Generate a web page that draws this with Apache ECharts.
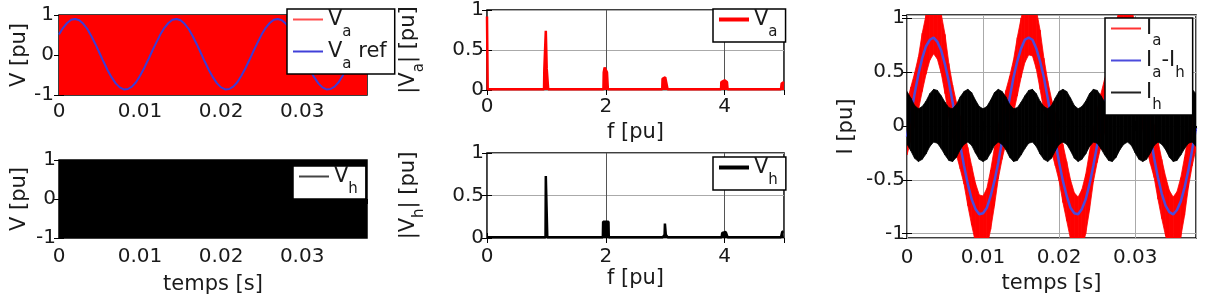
<!DOCTYPE html>
<html><head><meta charset="utf-8">
<script src="https://cdn.jsdelivr.net/npm/echarts@6/dist/echarts.min.js"></script>
<style>html,body{margin:0;padding:0;background:#fff}#c{width:1213px;height:304px}</style>
</head><body><div id="c"></div><script>
// ---------------- data ----------------
// PWM records: the switching is so dense that only the band between the extremes is visible
const pwmTime = [0, 0.038];
const vaPwmTop = [1, 1];
const vaPwmBottom = [-1, -1];
const vhPwmTop = [1, 1];
const vhPwmBottom = [-1, -1];

// slow curves sampled every 0.5 ms from t = 0 to 0.038 s
const sampleStep = 0.0005;
const vaRef = [0.51,0.68,0.80,0.88,0.90,0.87,0.78,0.65,0.47,0.27,0.05,-0.17,-0.38,-0.56,-0.71,-0.81,-0.86,-0.85,-0.79,-0.68,-0.52,-0.33,-0.12,0.10,0.31,
  0.51,0.68,0.80,0.88,0.90,0.87,0.78,0.65,0.47,0.27,0.05,-0.17,-0.38,-0.56,-0.71,-0.81,-0.86,-0.85,-0.79,-0.68,-0.52,-0.33,-0.12,0.10,0.31,
  0.51,0.68,0.80,0.88,0.90,0.87,0.78,0.65,0.47,0.27,0.05,-0.17,-0.38,-0.56,-0.71,-0.81,-0.86,-0.85,-0.79,-0.68,-0.52,-0.33,-0.12,0.10,0.31,
  0.51,0.68];
const iaMinusIh = [-0.10,0.10,0.30,0.48,0.63,0.74,0.80,0.82,0.78,0.70,0.57,0.41,0.22,0.02,-0.18,-0.37,-0.54,-0.68,-0.77,-0.82,-0.81,-0.76,-0.65,-0.51,-0.34,-0.14,0.06,0.26,0.45,0.60,0.72,0.80,0.82,0.80,0.72,0.60,0.45,0.26,0.06,-0.14,-0.34,-0.51,-0.65,-0.76,-0.81,-0.82,-0.77,-0.68,-0.54,-0.37,-0.18,0.02,0.22,0.41,0.57,0.70,0.78,0.82,0.80,0.74,0.63,0.48,0.30,0.10,-0.10,-0.30,-0.48,-0.63,-0.74,-0.80,-0.82,-0.78,-0.70,-0.57,-0.41,-0.22,-0.02];
const ihTop = [0.32,0.26,0.19,0.16,0.18,0.23,0.30,0.34,0.33,0.28,0.22,0.17,0.16,0.20,0.27,0.32,0.34,0.31,0.24,0.18,0.16,0.18,0.24,0.31,0.34,0.32,0.27,0.20,0.16,0.17,0.22,0.28,0.33,0.34,0.30,0.23,0.18,0.16,0.19,0.26,0.32,0.34,0.32,0.26,0.19,0.16,0.18,0.23,0.30,0.34,0.33,0.28,0.22,0.17,0.16,0.20,0.27,0.32,0.34,0.31,0.24,0.18,0.16,0.18,0.24,0.31,0.34,0.32,0.27,0.20,0.16,0.17,0.22,0.28,0.33,0.34,0.30];
const ihBottom = [-0.17,-0.23,-0.30,-0.33,-0.31,-0.26,-0.19,-0.15,-0.16,-0.21,-0.27,-0.32,-0.33,-0.29,-0.22,-0.17,-0.15,-0.18,-0.25,-0.31,-0.33,-0.31,-0.25,-0.18,-0.15,-0.17,-0.22,-0.29,-0.33,-0.32,-0.27,-0.21,-0.16,-0.15,-0.19,-0.26,-0.31,-0.33,-0.30,-0.23,-0.17,-0.15,-0.17,-0.23,-0.30,-0.33,-0.31,-0.26,-0.19,-0.15,-0.16,-0.21,-0.27,-0.32,-0.33,-0.29,-0.22,-0.17,-0.15,-0.18,-0.25,-0.31,-0.33,-0.31,-0.25,-0.18,-0.15,-0.17,-0.22,-0.29,-0.33,-0.32,-0.27,-0.21,-0.16,-0.15,-0.19];
const iaTop = [0.22,0.36,0.49,0.64,0.86,1.03,1.16,1.21,1.17,1.04,0.85,0.58,0.38,0.22,0.09,-0.05,-0.20,-0.37,-0.53,-0.64,-0.65,-0.58,-0.41,-0.20,0.00,0.18,0.33,0.46,0.61,0.82,1.00,1.14,1.21,1.20,1.08,0.89,0.63,0.42,0.25,0.12,-0.02,-0.17,-0.33,-0.50,-0.62,-0.66,-0.59,-0.45,-0.24,-0.03,0.15,0.30,0.44,0.58,0.78,0.96,1.11,1.20,1.20,1.11,0.93,0.66,0.46,0.28,0.14,0.01,-0.14,-0.31,-0.47,-0.60,-0.66,-0.61,-0.48,-0.29,-0.08,0.12,0.28];
const iaBottom = [-0.27,-0.13,0.00,0.15,0.32,0.48,0.61,0.67,0.62,0.49,0.30,0.09,-0.11,-0.27,-0.40,-0.54,-0.74,-0.92,-1.08,-1.19,-1.20,-1.13,-0.96,-0.74,-0.49,-0.31,-0.16,-0.03,0.12,0.28,0.45,0.59,0.66,0.65,0.53,0.34,0.14,-0.07,-0.24,-0.37,-0.51,-0.71,-0.88,-1.05,-1.17,-1.21,-1.14,-1.00,-0.78,-0.52,-0.34,-0.19,-0.05,0.09,0.24,0.41,0.56,0.65,0.65,0.56,0.38,0.17,-0.03,-0.21,-0.35,-0.48,-0.68,-0.86,-1.02,-1.15,-1.21,-1.16,-1.03,-0.83,-0.57,-0.37,-0.21];

// spectra
const vaSpecF = [0,0.006,0.012,0.96,0.965,0.985,0.99,1.0,1.005,1.025,1.03,1.96,1.965,1.98,2.0,2.02,2.035,2.95,2.955,2.97,3.0,3.03,3.04,3.94,3.945,3.96,4.0,4.04,4.05,4.95,4.96,4.98,5.0];
const vaSpecMag = [0.92,0.92,0.01,0.01,0.26,0.27,0.74,0.74,0.27,0.26,0.01,0.01,0.22,0.28,0.28,0.22,0.01,0.01,0.14,0.16,0.16,0.14,0.01,0.01,0.10,0.12,0.12,0.10,0.01,0.01,0.08,0.10,0.10];
const vhSpecF = [0,0.985,0.99,1.01,1.015,1.95,1.955,2.045,2.05,2.96,2.97,2.99,2.995,3.005,3.01,3.03,3.04,3.95,3.96,3.98,4.02,4.04,4.05,4.95,4.97,4.99,5.0];
const vhSpecMag = [0.01,0.01,0.73,0.73,0.01,0.01,0.19,0.19,0.01,0.01,0.03,0.04,0.17,0.17,0.04,0.03,0.01,0.01,0.06,0.07,0.07,0.06,0.01,0.01,0.07,0.08,0.08];

// axis ranges / ticks
const timeRange = [0, 0.038], timeTick = 0.01;
const vRange = [-1, 1], vTick = 1;
const fRange = [0, 5], fTick = 2;
const magRange = [0, 1], magTick = 0.5;
const iRange = [-1.04, 1.03];

// legend / axis texts
const legendText = {
  Va: 'V{s|a}', VaRef: 'V{s|a} ref', Vh: 'V{s|h}', VaSpec: 'V{s|a}', VhSpec: 'V{s|h}',
  Ia: 'I{s|a}', IaDiff: 'I{s|a}-I{s|h}', Ih: 'I{s|h}'
};
const nameV = 'V [pu]', nameT = 'temps [s]', nameF = 'f [pu]', nameI = 'I [pu]';
const nameVa = '|V{s|a}| [pu]', nameVh = '|V{s|h}| [pu]';

// ---------------- build ----------------
const tSample = vaRef.map((_, i) => +(i * sampleStep).toFixed(4));
const pairs = (xs, ys) => xs.map((x, i) => [x, ys[i]]);

const FONT = 'DejaVu Sans';
const TXT = '#1a1a1a';
const subRich = { s: { fontFamily: FONT, fontSize: 15, color: TXT, padding: [26, 0, 0, 0] } };
const nameRich = { s: { fontFamily: FONT, fontSize: 15, color: TXT, padding: [22, 0, 0, 0] } };

function axis(gi, range, extra) {
  const base = {
    gridIndex: gi, type: 'value', min: range[0], max: range[1],
    nameLocation: 'middle', nameMoveOverlap: false,
    nameTextStyle: { fontFamily: FONT, fontSize: 21, color: TXT, rich: nameRich },
    axisLine: { show: false },
    axisTick: { show: true, inside: true, length: 5, lineStyle: { color: '#000', width: 1 } },
    axisLabel: { fontFamily: FONT, fontSize: 20, color: TXT, margin: 8, showMaxLabel: true, showMinLabel: true },
    splitLine: { show: false }
  };
  for (const k in extra) {
    if (base[k] && typeof base[k] === 'object' && !Array.isArray(base[k]) && typeof extra[k] === 'object') base[k] = Object.assign({}, base[k], extra[k]);
    else base[k] = extra[k];
  }
  return base;
}
function mirror(gi, range, pos, extra) {
  return axis(gi, range, Object.assign({ position: pos, axisLabel: { show: false } }, extra || {}));
}
const gridStyle = { show: true, borderColor: '#000', borderWidth: 1.5, backgroundColor: 'transparent' };
const split = (c) => ({ show: true, lineStyle: { color: c, width: 1 } });

// filled band between a lower and an upper envelope, drawn quad by quad through the axis scales
function band(name, xi, yi, xs, lo, hi, color, z) {
  const rows = xs.map((x, i) => [x, lo[i], hi[i]]);
  return {
    type: 'custom', name, xAxisIndex: xi, yAxisIndex: yi, silent: true, z: z || 2,
    itemStyle: { color }, encode: { x: 0, y: [1, 2] }, data: rows,
    renderItem: (params, api) => {
      const i = params.dataIndex;
      if (i >= rows.length - 1) return null;
      const a = rows[i], b = rows[i + 1];
      const pts = [api.coord([a[0], a[1]]), api.coord([a[0], a[2]]), api.coord([b[0], b[2]]), api.coord([b[0], b[1]])];
      const cs = params.coordSys;
      return {
        type: 'polygon', shape: { points: pts },
        style: { fill: color, stroke: color, lineWidth: 0.8 },
        clipPath: { type: 'rect', shape: { x: cs.x, y: cs.y, width: cs.width, height: cs.height } }
      };
    }
  };
}
function lineS(name, xi, yi, xs, ys, color, width, area) {
  const s = { type: 'line', name, xAxisIndex: xi, yAxisIndex: yi, symbol: 'none', silent: true, color, z: 2,
    lineStyle: { color, width }, data: pairs(xs, ys) };
  if (area) s.areaStyle = { color, opacity: 1 };
  return s;
}
function legend(names, left, top, iconH, colors) {
  return {
    data: names.map((n, i) => ({ name: n, itemStyle: { color: colors[i] } })),
    left, top, orient: 'vertical', selectedMode: false, icon: 'rect', z: 10,
    itemWidth: 30, itemHeight: iconH, itemGap: 1,
    backgroundColor: '#fff', borderColor: '#000', borderWidth: 1.5, borderRadius: 0,
    padding: [0, 8, 2, 6],
    formatter: (n) => legendText[n],
    textStyle: { fontFamily: FONT, fontSize: 21, color: TXT, rich: subRich }
  };
}

const option = {
  animation: false,
  backgroundColor: '#fff',
  grid: [
    Object.assign({ left: 59, top: 15, width: 308, height: 80 }, gridStyle),
    Object.assign({ left: 59, top: 160, width: 308, height: 78 }, gridStyle),
    Object.assign({ left: 487, top: 5, width: 297, height: 85 }, gridStyle),
    Object.assign({ left: 487, top: 153, width: 297, height: 85 }, gridStyle),
    Object.assign({ left: 907, top: 15, width: 289, height: 223 }, gridStyle)
  ],
  xAxis: [
    axis(0, timeRange, { interval: timeTick, axisLabel: { margin: 7, showMaxLabel: false } }),
    axis(1, timeRange, { interval: timeTick, name: nameT, nameGap: 36, axisLabel: { margin: 9, showMaxLabel: false } }),
    axis(2, fRange, { interval: fTick, name: nameF, nameGap: 32, axisLabel: { margin: 7, showMaxLabel: false }, splitLine: split('#555') }),
    axis(3, fRange, { interval: fTick, name: nameF, nameGap: 30, axisLabel: { margin: 9, showMaxLabel: false }, splitLine: split('#555') }),
    axis(4, timeRange, { interval: timeTick, name: nameT, nameGap: 35, axisLabel: { margin: 10, showMaxLabel: false }, splitLine: split('#aaa') }),
    mirror(0, timeRange, 'top', { interval: timeTick }),
    mirror(1, timeRange, 'top', { interval: timeTick }),
    mirror(2, fRange, 'top', { interval: fTick }),
    mirror(3, fRange, 'top', { interval: fTick }),
    mirror(4, timeRange, 'top', { interval: timeTick })
  ],
  yAxis: [
    axis(0, vRange, { interval: vTick, name: nameV, nameGap: 29, axisLabel: { margin: 5 } }),
    axis(1, vRange, { interval: vTick, name: nameV, nameGap: 29, axisLabel: { margin: 3 } }),
    axis(2, magRange, { interval: magTick, name: nameVa, nameGap: 60, axisLabel: { margin: 3 }, splitLine: split('#aaa') }),
    axis(3, magRange, { interval: magTick, name: nameVh, nameGap: 60, axisLabel: { margin: 3 }, splitLine: split('#aaa') }),
    axis(4, iRange, { splitNumber: 4, name: nameI, nameGap: 50, axisLabel: { margin: 2, showMinLabel: false, showMaxLabel: false }, splitLine: split('#aaa') }),
    mirror(0, vRange, 'right', { interval: vTick }),
    mirror(1, vRange, 'right', { interval: vTick }),
    mirror(2, magRange, 'right', { interval: magTick }),
    mirror(3, magRange, 'right', { interval: magTick }),
    mirror(4, iRange, 'right', { splitNumber: 4 })
  ],
  legend: [
    legend(['Va', 'VaRef'], 287, 9, 2, ['#ff4d4d', '#4040d8']),
    legend(['Vh'], 293, 166, 2, ['#444']),
    legend(['VaSpec'], 713, 9, 4, ['#ff0000']),
    legend(['VhSpec'], 713, 157, 4, ['#000']),
    legend(['Ia', 'IaDiff', 'Ih'], 1105, 18, 2, ['#ff3333', '#4b4bdc', '#222'])
  ],
  series: [
    band('Va', 0, 0, pwmTime, vaPwmBottom, vaPwmTop, '#ff0000'),
    lineS('VaRef', 0, 0, tSample, vaRef, '#3c3cd6', 2),
    band('Vh', 1, 1, pwmTime, vhPwmBottom, vhPwmTop, '#000000'),
    lineS('VaSpec', 2, 2, vaSpecF, vaSpecMag, '#ff0000', 2.5, true),
    lineS('VhSpec', 3, 3, vhSpecF, vhSpecMag, '#000000', 2.5, true),
    band('Ia', 4, 4, tSample, iaBottom, iaTop, '#ff0000', 1),
    lineS('IaDiff', 4, 4, tSample, iaMinusIh, '#4b4bdc', 2.5),
    band('Ih', 4, 4, tSample, ihBottom, ihTop, '#000000', 3)
  ]
};

const chart = echarts.init(document.getElementById('c'), null, { renderer: 'canvas' });
chart.setOption(option);
</script></body></html>
